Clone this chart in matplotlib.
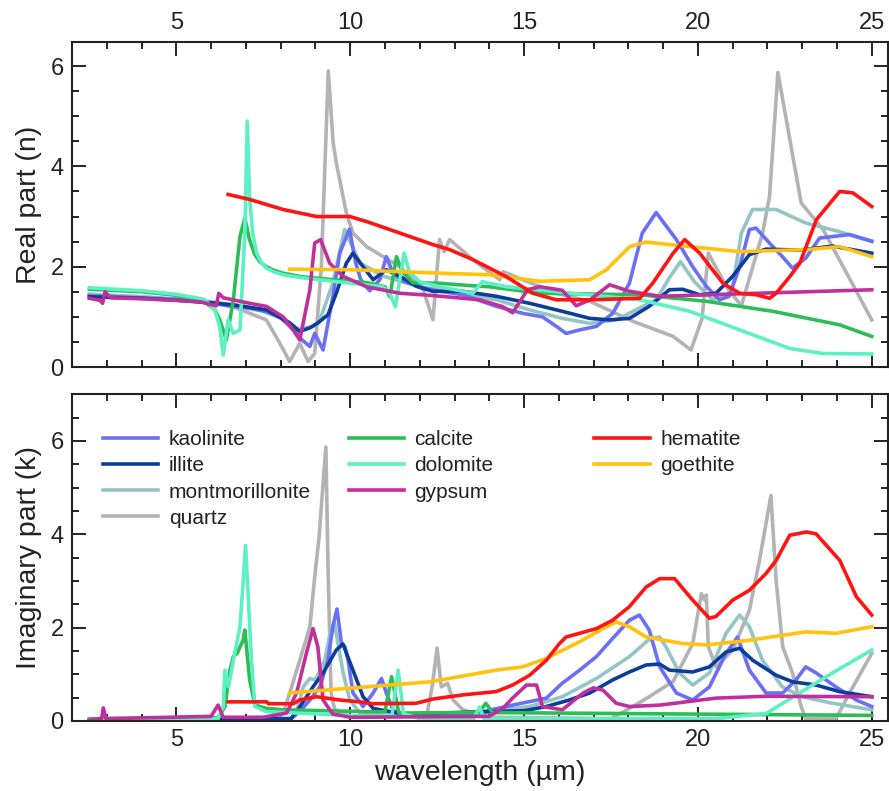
import matplotlib
matplotlib.use("Agg")
import matplotlib.pyplot as plt
from matplotlib.ticker import MultipleLocator

plt.rcParams['font.family'] = ['Liberation Sans', 'DejaVu Sans']

# ---- real part (n), wavelength in um ----
kaol_n_x = [2.5, 4, 5, 6, 6.5, 7, 7.5, 8, 8.4, 8.6, 8.84, 8.98, 9.22, 9.5, 9.7, 9.98, 10.15, 10.3, 10.56, 10.85,
            11.04, 11.23, 11.52, 12.0, 12.5, 13.24, 14.2, 14.96, 15.53, 15.93, 16.21, 16.6, 17.08, 17.55, 18.03,
            18.4, 18.8, 19.38, 19.85, 20.24, 20.62, 20.9, 21.2, 21.48, 21.67, 22.06, 22.43, 22.72, 23.1, 23.5,
            24.36, 25.0]
kaol_n_y = [1.42, 1.38, 1.35, 1.28, 1.22, 1.18, 1.12, 0.98, 0.72, 0.55, 0.41, 0.67, 0.34, 1.4, 2.27, 2.75, 2.1,
            1.75, 1.52, 1.74, 2.2, 1.87, 1.71, 1.6, 1.52, 1.44, 1.21, 1.07, 1.0, 0.81, 0.67, 0.74, 0.81, 1.07, 1.67,
            2.67, 3.08, 2.54, 2.0, 1.61, 1.34, 1.41, 2.0, 2.74, 2.77, 2.47, 2.2, 1.97, 2.17, 2.57, 2.64, 2.51]

illi_n_x = [2.5, 4, 5, 6, 6.63, 7.59, 8.26, 8.55, 8.84, 9.07, 9.36, 9.6, 9.89, 10.08, 10.37, 10.66, 11.04, 11.43,
            11.9, 12.37, 13.24, 14.2, 15.16, 16.1, 16.89, 17.46, 18.03, 18.6, 19.18, 19.56, 20.05, 20.52, 21.0,
            21.48, 21.96, 22.92, 23.87, 25.0]
illi_n_y = [1.40, 1.37, 1.33, 1.28, 1.24, 1.14, 0.88, 0.71, 0.78, 0.88, 1.04, 1.47, 2.07, 2.27, 2.0, 1.74, 1.94,
            1.81, 1.61, 1.51, 1.51, 1.41, 1.27, 1.11, 0.97, 0.94, 0.97, 1.21, 1.54, 1.55, 1.44, 1.47, 1.81, 2.24,
            2.35, 2.33, 2.41, 2.27]

mont_n_x = [2.5, 4, 5, 6, 7, 8, 8.5, 8.93, 9.1, 9.5, 9.84, 10.28, 11, 12, 13, 14.2, 15.16, 16.1, 16.89, 17.65,
            18.22, 18.8, 19.2, 19.5, 19.9, 20.4, 20.8, 21.0, 21.25, 21.57, 22.25, 23.1, 24.06, 25.0]
mont_n_y = [1.45, 1.4, 1.35, 1.3, 1.2, 1.02, 0.75, 0.81, 0.88, 1.67, 2.74, 2.07, 1.8, 1.6, 1.48, 1.34, 1.14, 0.97,
            0.87, 0.94, 1.14, 1.34, 1.8, 2.1, 1.7, 1.35, 1.4, 1.6, 2.67, 3.14, 3.14, 2.87, 2.7, 2.5]

quar_n_x = [2.5, 4, 5, 6, 6.64, 7.59, 7.98, 8.26, 8.55, 8.79, 8.98, 9.17, 9.37, 9.51, 9.6, 9.89, 10.08, 10.47,
            11.43, 12.1, 12.38, 12.57, 12.7, 12.86, 13.53, 14.3, 14.4, 14.97, 15.93, 16.89, 18.14, 19.29, 19.8,
            20.12, 20.3, 20.82, 21.25, 21.86, 22.06, 22.3, 22.97, 23.6, 25.0]
quar_n_y = [1.45, 1.4, 1.35, 1.28, 1.2, 0.94, 0.47, 0.11, 0.47, 0.11, 0.27, 2.0, 5.9, 4.47, 4.07, 3.07, 2.67, 2.4,
            2.0, 1.54, 0.94, 2.54, 2.3, 2.54, 2.14, 1.74, 1.9, 1.74, 1.47, 1.31, 0.91, 0.61, 0.34, 0.97, 2.27, 1.6,
            1.22, 2.67, 3.4, 5.87, 3.27, 2.74, 0.94]

calc_n_x = [2.5, 4, 5, 5.8, 6.1, 6.25, 6.44, 6.64, 6.83, 6.97, 7.1, 7.25, 7.4, 7.59, 7.8, 8.07, 8.6, 9.5, 10.5,
            11.0, 11.14, 11.33, 11.5, 11.8, 12.57, 13.5, 14.0, 15.45, 18.33, 20.24, 22.16, 24.08, 25.0]
calc_n_y = [1.55, 1.5, 1.43, 1.3, 1.15, 0.94, 0.54, 1.34, 2.6, 2.97, 2.55, 2.25, 2.1, 2.0, 1.93, 1.87, 1.8, 1.74,
            1.68, 1.6, 1.4, 2.2, 1.9, 1.68, 1.67, 1.62, 1.6, 1.47, 1.44, 1.31, 1.11, 0.84, 0.61]

dolo_n_x = [2.5, 4, 5, 5.8, 6.1, 6.25, 6.35, 6.49, 6.64, 6.83, 6.97, 7.04, 7.11, 7.2, 7.31, 7.45, 7.59, 7.8, 8.07,
            8.6, 9.5, 10.95, 11.15, 11.3, 11.55, 11.7, 12.0, 12.57, 13.53, 13.8, 14.5, 16.4, 18.33, 19.77, 21.2,
            22.64, 23.6, 25.0]
dolo_n_y = [1.58, 1.52, 1.45, 1.35, 1.15, 0.8, 0.24, 0.94, 0.67, 0.74, 2.67, 4.9, 3.34, 2.65, 2.27, 2.08, 1.97,
            1.9, 1.84, 1.78, 1.71, 1.6, 1.45, 1.2, 2.27, 1.9, 1.7, 1.6, 1.47, 1.7, 1.6, 1.47, 1.34, 1.11, 0.74, 0.37,
            0.27, 0.26]

gyps_n_x = [2.5, 2.8, 2.88, 2.95, 3.1, 4, 5, 5.68, 6.15, 6.22, 6.35, 7.11, 7.59, 8.07, 8.36, 8.55, 8.84, 8.98,
            9.15, 9.41, 9.79, 10.47, 11.43, 12.29, 13.72, 14.4, 14.67, 15.1, 15.45, 16.1, 16.5, 16.9, 17.46, 18.03,
            18.9, 25.0]
gyps_n_y = [1.37, 1.33, 1.27, 1.5, 1.38, 1.36, 1.33, 1.3, 1.22, 1.47, 1.38, 1.27, 1.21, 1.0, 0.74, 0.54, 1.54,
            2.47, 2.54, 2.07, 1.81, 1.6, 1.47, 1.43, 1.34, 1.2, 1.08, 1.54, 1.6, 1.53, 1.22, 1.34, 1.64, 1.51, 1.41,
            1.54]

hema_n_x = [6.49, 7.11, 8.07, 9.03, 9.99, 10.47, 11.43, 12.38, 12.86, 13.53, 14.49, 15.25, 15.93, 16.89, 18.33,
            18.7, 19.29, 19.62, 20.05, 20.72, 21.2, 21.68, 22.06, 22.25, 22.64, 22.93, 23.41, 24.08, 24.46, 25.0]
hema_n_y = [3.44, 3.34, 3.14, 3.0, 3.0, 2.9, 2.67, 2.44, 2.34, 2.14, 1.8, 1.47, 1.34, 1.34, 1.37, 1.67, 2.27, 2.54,
            2.27, 1.67, 1.47, 1.44, 1.37, 1.47, 1.8, 2.07, 2.94, 3.5, 3.47, 3.2]

goet_n_x = [8.26, 9.99, 12.57, 14.0, 15.45, 16.89, 17.37, 18.04, 18.5, 19.77, 21.2, 23.12, 24.08, 25.0]
goet_n_y = [1.95, 1.94, 1.87, 1.84, 1.71, 1.74, 1.94, 2.4, 2.49, 2.4, 2.3, 2.34, 2.4, 2.2]

# ---- imaginary part (k) ----
kaol_k_x = [2.5, 8.3, 8.55, 8.84, 9.13, 9.36, 9.5, 9.62, 9.75, 9.85, 9.94, 10.08, 10.37, 10.66, 10.9, 11.04,
            11.23, 11.6, 13.5, 14.67, 15.64, 16.1, 16.6, 17.08, 17.55, 18.03, 18.32, 18.6, 18.9, 19.38, 19.85,
            20.33, 20.81, 21.14, 21.48, 21.96, 22.44, 22.82, 23.1, 23.4, 23.97, 24.55, 25.0]
kaol_k_y = [0.02, 0.05, 0.2, 0.45, 0.73, 1.3, 2.02, 2.4, 1.66, 1.59, 1.3, 0.6, 0.31, 0.6, 0.91, 0.6, 0.24, 0.12,
            0.15, 0.34, 0.49, 0.81, 1.09, 1.38, 1.77, 2.16, 2.27, 1.95, 1.16, 0.6, 0.45, 0.73, 1.45, 1.8, 1.09, 0.6,
            0.6, 0.88, 1.16, 1.03, 0.73, 0.45, 0.31]

illi_k_x = [2.5, 8.3, 8.55, 8.93, 9.22, 9.6, 9.79, 10.08, 10.37, 10.66, 11.5, 15.0, 15.64, 16.3, 16.89, 17.55,
            18.03, 18.51, 18.9, 19.18, 19.85, 20.33, 20.81, 21.2, 21.58, 22.25, 22.72, 23.4, 24.07, 25.0]
illi_k_y = [0.02, 0.05, 0.3, 0.73, 1.03, 1.52, 1.65, 1.09, 0.52, 0.27, 0.15, 0.22, 0.31, 0.45, 0.6, 0.88, 1.05,
            1.2, 1.22, 1.09, 1.05, 1.16, 1.48, 1.56, 1.3, 0.98, 0.84, 0.77, 0.63, 0.52]

mont_k_x = [2.5, 8.3, 8.46, 8.65, 8.84, 9.0, 9.27, 9.46, 9.55, 9.8, 9.99, 10.3, 13, 15.16, 16.1, 17.08, 18.03,
            18.6, 18.9, 19.08, 19.47, 19.85, 20.33, 20.81, 21.2, 21.48, 21.86, 22.43, 23.0, 23.87, 25.0]
mont_k_y = [0.02, 0.05, 0.2, 0.73, 0.91, 0.88, 1.3, 2.02, 2.09, 1.02, 0.45, 0.15, 0.1, 0.31, 0.52, 0.91, 1.38,
            1.75, 1.8, 1.59, 1.03, 0.77, 1.03, 1.88, 2.27, 2.02, 1.3, 0.73, 0.52, 0.38, 0.24]

quar_k_x = [2.5, 7.8, 8.07, 8.26, 8.55, 8.84, 8.98, 9.1, 9.3, 9.36, 9.45, 9.55, 10.0, 12.2, 12.37, 12.5, 12.62,
            12.8, 12.96, 13.24, 14, 17.5, 18.13, 18.6, 19.29, 19.56, 19.85, 20.1, 20.18, 20.24, 20.3, 20.52, 21.0,
            21.48, 21.77, 22.1, 22.25, 22.44, 22.72, 22.97, 23.1, 23.97, 24.36, 25.0]
quar_k_y = [0.02, 0.03, 0.16, 0.6, 1.3, 2.02, 3.09, 3.9, 5.87, 3.4, 0.6, 0.25, 0.1, 0.1, 0.8, 1.56, 0.73, 0.81,
            0.45, 0.24, 0.08, 0.05, 0.31, 0.52, 0.85, 1.24, 1.66, 2.73, 2.6, 2.7, 1.59, 1.16, 1.52, 2.37, 3.44, 4.83,
            3.0, 1.59, 1.03, 0.31, 0.05, 0.05, 0.6, 1.45]

calc_k_x = [2.5, 6.2, 6.4, 6.54, 6.64, 6.75, 6.92, 6.97, 7.11, 7.26, 7.59, 8.07, 10.5, 11.0, 11.19, 11.4, 13.7,
            13.9, 14.1, 25.0]
calc_k_y = [0.05, 0.07, 0.31, 1.09, 1.38, 1.45, 1.73, 1.95, 0.88, 0.34, 0.27, 0.24, 0.2, 0.2, 0.95, 0.17, 0.18,
            0.38, 0.18, 0.12]

dolo_k_x = [2.5, 6.2, 6.35, 6.4, 6.5, 6.64, 6.83, 6.9, 6.99, 7.06, 7.16, 7.26, 7.59, 10.5, 11.2, 11.38, 11.53,
            12.0, 13.55, 13.72, 13.85, 20.5, 21.96, 22.92, 23.87, 25.0]
dolo_k_y = [0.03, 0.05, 0.3, 1.09, 0.73, 1.3, 2.02, 2.73, 3.76, 2.8, 1.3, 0.31, 0.2, 0.1, 0.12, 1.09, 0.16, 0.05,
            0.05, 0.3, 0.05, 0.05, 0.16, 0.6, 1.03, 1.52]

gyps_k_x = [2.5, 2.85, 2.9, 2.98, 6.0, 6.2, 6.35, 7.5, 8.17, 8.46, 8.74, 8.93, 9.07, 9.22, 9.5, 10, 14.0, 14.4,
            14.67, 15.07, 15.36, 15.53, 16.1, 16.7, 16.99, 17.27, 17.65, 18.03, 18.9, 20.52, 21.96, 25.0]
gyps_k_y = [0.02, 0.05, 0.28, 0.05, 0.1, 0.34, 0.08, 0.08, 0.17, 0.6, 1.45, 1.98, 1.59, 0.45, 0.15, 0.08, 0.1,
            0.28, 0.49, 0.77, 0.77, 0.31, 0.24, 0.6, 0.71, 0.66, 0.38, 0.31, 0.34, 0.49, 0.53, 0.52]

hema_k_x = [6.49, 7.6, 7.65, 8.36, 8.55, 9.03, 9.7, 10.28, 10.66, 11.9, 12.37, 13.24, 14.2, 14.67, 15.16, 15.64,
            16.02, 16.21, 16.6, 17.08, 17.55, 18.03, 18.51, 18.9, 19.33, 19.85, 20.33, 20.52, 21.0, 21.48, 21.96,
            22.25, 22.64, 23.12, 23.4, 24.08, 24.56, 25.0]
hema_k_y = [0.41, 0.41, 0.37, 0.37, 0.45, 0.52, 0.45, 0.41, 0.37, 0.38, 0.47, 0.56, 0.63, 0.77, 0.98, 1.3, 1.66,
            1.8, 1.88, 1.98, 2.16, 2.45, 2.87, 3.05, 3.05, 2.59, 2.2, 2.24, 2.59, 2.8, 3.16, 3.44, 3.98, 4.05, 4.01,
            3.44, 2.66, 2.27]

goet_k_x = [8.26, 12.29, 14.2, 14.96, 15.64, 16.6, 17.27, 17.65, 18.03, 18.51, 19.56, 20.24, 21.48, 23.1, 23.97,
            25.0]
goet_k_y = [0.6, 0.84, 1.09, 1.16, 1.34, 1.7, 1.98, 2.12, 2.02, 1.8, 1.66, 1.63, 1.73, 1.91, 1.88, 2.02]

colors = {
    "kaolinite": "#6b6ff5",
    "illite": "#0c3c9c",
    "montmorillonite": "#93c5c5",
    "quartz": "#b3b3b3",
    "calcite": "#2dbd57",
    "dolomite": "#5cf0c2",
    "gypsum": "#c0309c",
    "hematite": "#ff1414",
    "goethite": "#ffc20e",
}
n_data = {
    "kaolinite": (kaol_n_x, kaol_n_y), "illite": (illi_n_x, illi_n_y), "montmorillonite": (mont_n_x, mont_n_y),
    "quartz": (quar_n_x, quar_n_y), "calcite": (calc_n_x, calc_n_y), "dolomite": (dolo_n_x, dolo_n_y),
    "gypsum": (gyps_n_x, gyps_n_y), "hematite": (hema_n_x, hema_n_y), "goethite": (goet_n_x, goet_n_y),
}
k_data = {
    "kaolinite": (kaol_k_x, kaol_k_y), "illite": (illi_k_x, illi_k_y), "montmorillonite": (mont_k_x, mont_k_y),
    "quartz": (quar_k_x, quar_k_y), "calcite": (calc_k_x, calc_k_y), "dolomite": (dolo_k_x, dolo_k_y),
    "gypsum": (gyps_k_x, gyps_k_y), "hematite": (hema_k_x, hema_k_y), "goethite": (goet_k_x, goet_k_y),
}
draw_order = ["quartz", "montmorillonite", "kaolinite", "illite", "calcite", "dolomite", "gypsum",
              "goethite", "hematite"]
legend_cols = [["kaolinite", "illite", "montmorillonite", "quartz"],
               ["calcite", "dolomite", "gypsum"],
               ["hematite", "goethite"]]

fig = plt.figure(figsize=(8.89, 7.91), dpi=100)
ax1 = fig.add_axes([0.081, 0.536, 0.918, 0.411])
ax2 = fig.add_axes([0.081, 0.0885, 0.918, 0.413])

handles = {}
for name in draw_order:
    x, y = n_data[name]
    ax1.plot(x, y, color=colors[name], lw=2.6, solid_joinstyle="round")
    x, y = k_data[name]
    handles[name], = ax2.plot(x, y, color=colors[name], lw=2.6, solid_joinstyle="round", label=name)

for ax in (ax1, ax2):
    ax.set_xlim(2, 25.47)
    ax.xaxis.set_major_locator(MultipleLocator(5))
    ax.xaxis.set_minor_locator(MultipleLocator(1))
    ax.yaxis.set_major_locator(MultipleLocator(2))
    ax.yaxis.set_minor_locator(MultipleLocator(0.5))
    ax.tick_params(which="both", direction="in", top=True, right=True, width=1.4, colors="#222222",
                   labelsize=17, pad=6)
    ax.tick_params(which="major", length=10)
    ax.tick_params(which="minor", length=5)
    for sp in ax.spines.values():
        sp.set_linewidth(1.5)
        sp.set_color("#222222")

ax1.set_ylim(0, 6.48)
ax2.set_ylim(0, 7.0)
ax1.tick_params(labelbottom=False, labeltop=True)

ax1.set_ylabel("Real part (n)", fontsize=20.5, color="#222222")
ax2.set_ylabel("Imaginary part (k)", fontsize=20.5, color="#222222")
ax1.yaxis.set_label_coords(-0.037, 0.5)
ax2.yaxis.set_label_coords(-0.037, 0.5)
ax2.set_xlabel("wavelength (\u00b5m)", fontsize=20.5, color="#222222", labelpad=6)

anchors = [(0.028, 0.915), (0.329, 0.915), (0.63, 0.915)]
legs = []
for names, anc in zip(legend_cols, anchors):
    leg = ax2.legend([handles[n] for n in names], names, loc="upper left", bbox_to_anchor=anc,
                     frameon=False, fontsize=15, handlelength=2.65, handletextpad=0.5,
                     labelspacing=0.34, borderaxespad=0.0)
    for t in leg.get_texts():
        t.set_color("#222222")
    legs.append(leg)
for leg in legs[:-1]:
    ax2.add_artist(leg)

fig.savefig("out.png", dpi=100)
